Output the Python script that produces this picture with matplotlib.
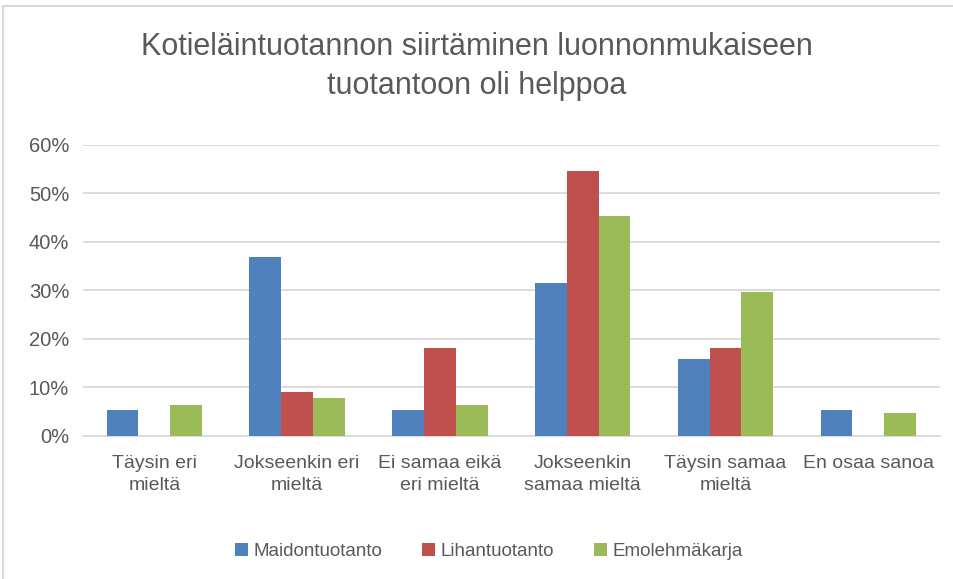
import numpy as np
import matplotlib.pyplot as plt
from matplotlib.patches import Rectangle
from matplotlib.ticker import PercentFormatter

# Answer categories
categories = ['Täysin eri\nmieltä', 'Jokseenkin eri\nmieltä', 'Ei samaa eikä\neri mieltä',
              'Jokseenkin\nsamaa mieltä', 'Täysin samaa\nmieltä', 'En osaa sanoa']

# Shares (%) per production type
maidontuotanto = [5.3, 36.8, 5.3, 31.6, 15.8, 5.3]
lihantuotanto = [0, 9.1, 18.2, 54.5, 18.2, 0]
emolehmakarja = [6.3, 7.8, 6.3, 45.3, 29.7, 4.7]

series_names = ['Maidontuotanto', 'Lihantuotanto', 'Emolehmäkarja']
colors = ['#4f81bd', '#c0504d', '#9bbb59']

plt.rcParams['font.family'] = ['Liberation Sans', 'DejaVu Sans']
text_color = '#595959'

fig = plt.figure(figsize=(9.54, 5.79), dpi=100)
ax = fig.add_axes([0.087, 0.247, 0.898, 0.503])

x = np.arange(len(categories))
width = 0.223
for i, (vals, name, c) in enumerate(zip([maidontuotanto, lihantuotanto, emolehmakarja], series_names, colors)):
    ax.bar(x + (i - 1) * width, vals, width, color=c, label=name, zorder=3)

ax.set_xlim(-0.5, len(categories) - 0.5)
ax.set_ylim(0, 60)
ax.set_yticks(np.arange(0, 61, 10))
ax.yaxis.set_major_formatter(PercentFormatter(decimals=0))
ax.grid(axis='y', color='#d9d9d9', linewidth=1.3, zorder=0)
ax.set_xticks(x)
ax.set_xticklabels(categories, linespacing=1.35)
ax.tick_params(axis='both', length=0, labelsize=14.5, colors=text_color, pad=10)
ax.tick_params(axis='x', labelsize=14, pad=14)
for s in ['top', 'right', 'left']:
    ax.spines[s].set_visible(False)
ax.spines['bottom'].set_color('#d9d9d9')
ax.spines['bottom'].set_linewidth(1.3)

fig.suptitle('Kotieläintuotannon siirtäminen luonnonmukaiseen\ntuotantoon oli helppoa',
             y=0.945, fontsize=22, color=text_color, va='top', linespacing=1.4)

ax.legend(loc='lower center', bbox_to_anchor=(0.474, -0.485), ncol=3, frameon=False,
          fontsize=13.5, handlelength=0.7, handleheight=0.7, handletextpad=0.3,
          columnspacing=2.1, labelcolor=text_color)

# light frame around the chart
fig.patches.append(Rectangle((0.003, -0.01), 1.0, 1.0, transform=fig.transFigure,
                             fill=False, edgecolor='#d9d9d9', linewidth=1.5))

fig.savefig('out.png', dpi=100)
